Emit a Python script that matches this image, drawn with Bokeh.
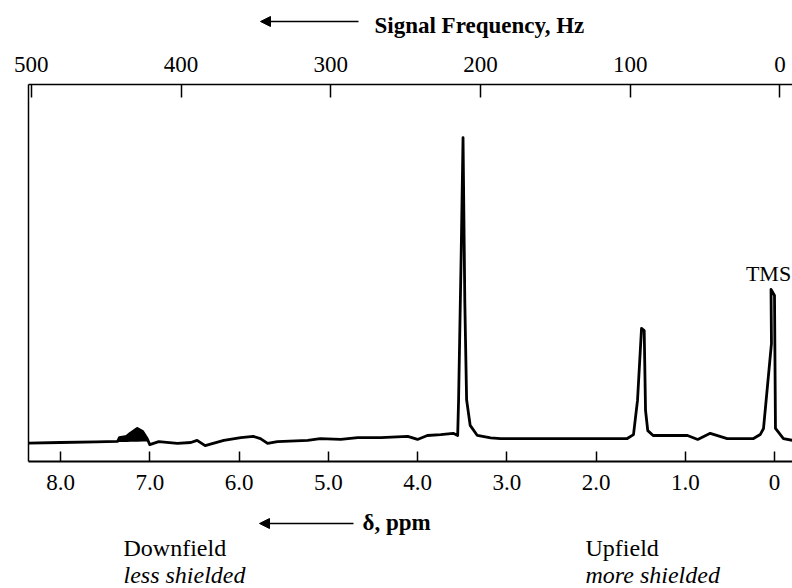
from bokeh.plotting import figure
from bokeh.models import (Range1d, LinearAxis, FixedTicker, Label, Arrow, NormalHead)
from bokeh.layouts import column
from bokeh.embed import file_html
from bokeh.resources import INLINE

# ---------------- data ----------------
trace_ppm = [8.36, 8.0, 7.6, 7.36, 7.34, 7.26, 7.22, 7.14, 7.08, 7.03, 7.00, 6.90,
             6.69, 6.54, 6.47, 6.38, 6.17, 5.98, 5.84, 5.76, 5.68, 5.57, 5.23, 5.09,
             4.86, 4.67, 4.41, 4.11, 4.00, 3.89, 3.74, 3.60, 3.55, 3.54, 3.51, 3.49,
             3.47, 3.45, 3.41, 3.33, 3.18, 3.07, 2.40, 1.65, 1.58, 1.535, 1.49, 1.46,
             1.445, 1.42, 1.36, 1.17, 0.975, 0.86, 0.72, 0.53, 0.235, 0.16, 0.123,
             0.034, 0.039, 0.0, -0.011, -0.10, -0.2]
trace_int = [-0.2, 0.0, 0.2, 0.4, 1.6, 2.0, 3.0, 4.6, 3.6, 1.3, -0.7, 0.3,
             -0.3, 0.0, 0.7, -1.0, 0.7, 1.6, 2.0, 1.3, -0.3, 0.3, 0.7, 1.3,
             1.0, 1.6, 1.6, 2.0, 1.0, 2.3, 2.6, 3.0, 2.3, 13.8, 63.0, 100.0,
             46.0, 14.0, 5.6, 2.3, 1.5, 1.3, 1.3, 1.3, 2.6, 13.8, 37.4, 36.7,
             10.5, 3.9, 2.3, 2.3, 2.3, 1.0, 3.0, 1.3, 1.3, 2.6, 4.6,
             32.5, 50.2, 48.2, 4.6, 1.3, 0.7]

# aromatic multiplet drawn as a filled blob
blob_ppm = [7.36, 7.34, 7.26, 7.22, 7.14, 7.08, 7.03]
blob_upper = [0.4, 1.6, 2.0, 3.0, 4.6, 3.6, 1.3]
blob_lower = [0.4, 0.4, 0.4, 0.5, 0.5, 0.6, 0.6]

ppm_ticks = [8, 7, 6, 5, 4, 3, 2, 1, 0]
ppm_labels = ["8.0", "7.0", "6.0", "5.0", "4.0", "3.0", "2.0", "1.0", "0"]
hz_ticks = [500, 400, 300, 200, 100, 0]
hz_labels = ["500", "400", "300", "200", "100", "0"]

SERIF = "Liberation Serif"
W = 792
LEFT = 28


def bare(h):
    f = figure(width=W, height=h, output_backend="svg", toolbar_location=None,
               x_range=Range1d(LEFT, W), y_range=Range1d(h, 0),
               x_axis_location=None, y_axis_location=None,
               min_border=0, min_border_left=LEFT, min_border_right=0,
               min_border_top=0, min_border_bottom=0)
    f.outline_line_color = None
    f.xgrid.visible = False
    f.ygrid.visible = False
    return f


def txt(fig, x, y, s, size="24px", style="normal", align="left"):
    fig.add_layout(Label(x=x, y=y, text=s, text_font=SERIF, text_font_size=size,
                         text_font_style=style, text_align=align,
                         text_baseline="middle", text_color="black"))


def arrow(fig, x0, x1, y):
    fig.add_layout(Arrow(end=NormalHead(size=10, fill_color="black", line_color="black"),
                         x_start=x0, y_start=y, x_end=x1, y_end=y,
                         line_width=1.5, line_color="black"))


# ---------------- top strip: frequency title ----------------
top = bare(40)
txt(top, 374, 25, "Signal Frequency, Hz", size="23px", style="bold")
arrow(top, 358, 260, 21)

# ---------------- main spectrum ----------------
p = figure(width=W, height=463, output_backend="svg", toolbar_location=None,
           x_range=Range1d(8.359, -0.2017), y_range=Range1d(-6.23, 117.4),
           min_border_left=LEFT, min_border_right=0, min_border_top=44,
           min_border_bottom=42, x_axis_location="below", y_axis_location="left")
p.outline_line_color = None
p.xgrid.visible = False
p.ygrid.visible = False

bx = p.below[0]
bx.ticker = FixedTicker(ticks=ppm_ticks)
bx.major_label_overrides = {t: l for t, l in zip(ppm_ticks, ppm_labels)}
bx.major_tick_in = 10
bx.major_tick_out = 0
bx.minor_tick_line_color = None
bx.major_tick_line_width = 1.5
bx.axis_line_width = 2
bx.major_label_standoff = 13
bx.major_label_text_font = SERIF
bx.major_label_text_font_size = "23px"
bx.major_label_text_color = "black"

ly = p.left[0]
ly.ticker = FixedTicker(ticks=[])
ly.major_tick_line_color = None
ly.minor_tick_line_color = None
ly.axis_line_width = 1.5

p.extra_x_ranges = {"hz": Range1d(501.9, -8.4)}
tx = LinearAxis(x_range_name="hz", ticker=FixedTicker(ticks=hz_ticks))
tx.major_label_overrides = {t: l for t, l in zip(hz_ticks, hz_labels)}
tx.major_tick_in = 13
tx.major_tick_out = 0
tx.minor_tick_line_color = None
tx.major_tick_line_width = 1.5
tx.axis_line_width = 1.5
tx.major_label_standoff = 13
tx.major_label_text_font = SERIF
tx.major_label_text_font_size = "23px"
tx.major_label_text_color = "black"
p.add_layout(tx, "above")

p.patch(blob_ppm + blob_ppm[::-1], blob_upper + blob_lower[::-1],
        fill_color="black", line_color="black", line_width=1.5)
p.line(trace_ppm, trace_int, line_color="black", line_width=2.8,
       line_join="round", line_cap="round")

txt(p, 0.067, 55.4, "TMS", size="22px", align="center")

# ---------------- bottom strip: ppm label and field notes ----------------
bot = bare(85)
txt(bot, 362, 19, "δ, ppm", size="23px", style="bold")
arrow(bot, 353, 259, 20)
txt(bot, 123, 44, "Downfield")
txt(bot, 123, 71, "less shielded", style="italic")
txt(bot, 585, 44, "Upfield")
txt(bot, 585, 71, "more shielded", style="italic")

layout = column(top, p, bot, spacing=0)
open("out.html", "w").write(file_html(layout, INLINE))
